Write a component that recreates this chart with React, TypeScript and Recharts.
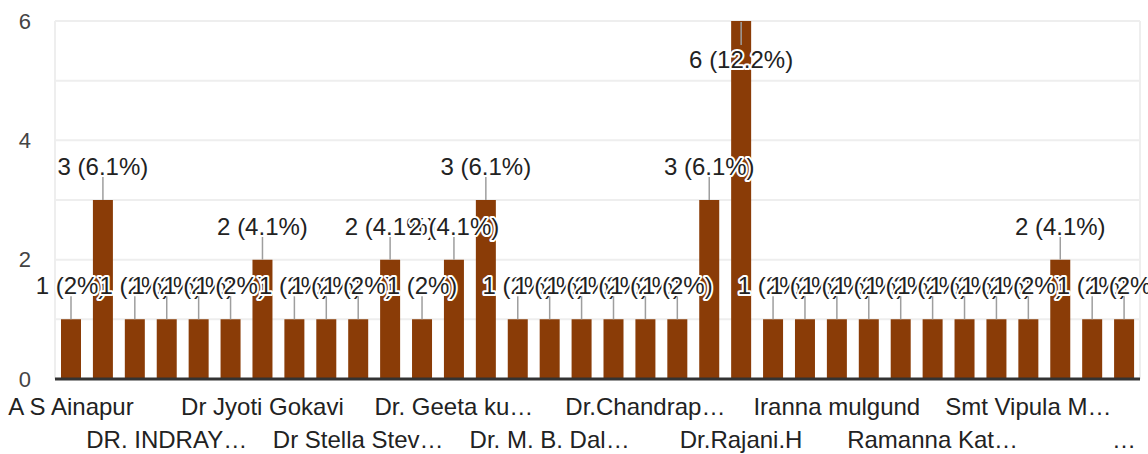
import React from 'react';
import { BarChart, Bar, XAxis, YAxis, CartesianGrid } from 'recharts';

const categories = [
  'A S Ainapur', 'Respondent 02', 'Respondent 03', 'DR. INDRAY…', 'Respondent 05', 'Respondent 06',
  'Dr Jyoti Gokavi', 'Respondent 08', 'Respondent 09', 'Dr Stella Stev…', 'Respondent 11', 'Respondent 12',
  'Dr. Geeta ku…', 'Respondent 14', 'Respondent 15', 'Dr. M. B. Dal…', 'Respondent 17', 'Respondent 18',
  'Dr.Chandrap…', 'Respondent 20', 'Respondent 21', 'Dr.Rajani.H', 'Respondent 23', 'Respondent 24',
  'Iranna mulgund', 'Respondent 26', 'Respondent 27', 'Ramanna Kat…', 'Respondent 29', 'Respondent 30',
  'Smt Vipula M…', 'Respondent 32', 'Respondent 33', '…',
];

const counts = [
  1, 3, 1, 1, 1, 1, 2, 1, 1, 1, 2, 1, 2, 3, 1, 1, 1,
  1, 1, 1, 3, 6, 1, 1, 1, 1, 1, 1, 1, 1, 1, 2, 1, 1,
];

const yTicks = [0, 1, 2, 3, 4, 5, 6];
const yTickLabels = ['0', '', '2', '', '4', '', '6'];

const total = counts.reduce((a, b) => a + b, 0);
const data = categories.map((name, i) => ({ name, value: counts[i] }));

const FONT = '"Liberation Sans", Arial, sans-serif';
const BAR_COLOR = '#8a3c07';

const pctText = (v: number) => {
  const s = ((v / total) * 100).toFixed(1);
  return s.endsWith('.0') ? s.slice(0, -2) : s;
};

const XTick = (props: any) => {
  const { x, y, payload } = props;
  const idx = categories.indexOf(payload.value);
  const row = Math.floor(idx / 3) % 2;
  return (
    <text
      x={x}
      y={y + (row ? 69 : 36)}
      textAnchor="middle"
      fontSize={24}
      fill="#222"
      fontFamily={FONT}
    >
      {payload.value}
    </text>
  );
};

const renderLabel = (p: any) => {
  const { x, y, width, value, index } = p;
  const cx = x + width / 2;
  const below = y - 45 < 0;
  const l1 = below ? y + 1 : y - 23;
  const l2 = below ? y + 24 : y;
  const ty = below ? y + 47 : y - 25;
  return (
    <g key={`lbl-${index}`}>
      <line x1={cx} x2={cx} y1={l1} y2={l2} stroke="#9e9e9e" strokeWidth={1.5} />
      <text
        x={cx}
        y={ty}
        textAnchor="middle"
        fontSize={24}
        fontFamily={FONT}
        fill="#222"
        stroke="#fff"
        strokeWidth={4}
        strokeLinejoin="round"
        style={{ paintOrder: 'stroke' }}
      >
        {`${value} (${pctText(value)}%)`}
      </text>
    </g>
  );
};

export default function App() {
  return (
    <div style={{ position: 'absolute', left: 0, top: 0, background: '#fff' }}>
      <BarChart
        width={1148}
        height={454}
        data={data}
        margin={{ top: 21, right: 8, bottom: 0, left: 0 }}
        barSize={20}
      >
        <CartesianGrid
          stroke="#eeeeee"
          strokeWidth={2}
          vertical
          verticalCoordinatesGenerator={({ offset }: any) => [offset.left, offset.left + offset.width]}
        />
        <XAxis
          dataKey="name"
          interval={2}
          height={75}
          tickLine={false}
          tickSize={0}
          tickMargin={0}
          axisLine={{ stroke: '#333', strokeWidth: 3 }}
          tick={<XTick />}
        />
        <YAxis
          width={55}
          domain={[0, 6]}
          ticks={yTicks}
          tickFormatter={(v: number) => yTickLabels[yTicks.indexOf(v)]}
          axisLine={false}
          tickLine={false}
          tickSize={0}
          tickMargin={24}
          tick={{ fontSize: 22, fill: '#444', fontFamily: FONT }}
        />
        <Bar dataKey="value" fill={BAR_COLOR} isAnimationActive={false} label={renderLabel} />
      </BarChart>
    </div>
  );
}
